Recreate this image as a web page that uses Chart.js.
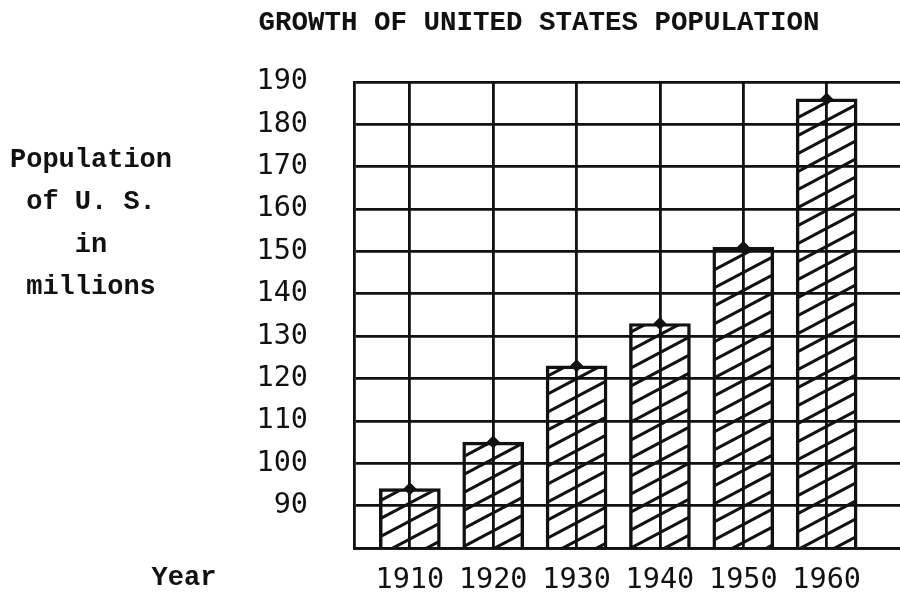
<!DOCTYPE html>
<html>
<head>
<meta charset="utf-8">
<title>Growth of United States Population</title>
<script src="https://cdn.jsdelivr.net/npm/chart.js@4"></script>
<style>
  html, body { margin: 0; padding: 0; background: #fff; }
  #wrap { width: 900px; height: 598px; }
</style>
</head>
<body>
<div id="wrap"><canvas id="popChart" width="900" height="598"></canvas></div>
<script>
// census years and population (millions) as drawn on the bars
const years = [1910, 1920, 1930, 1940, 1950, 1960];
const population = [94, 105, 123, 133, 151, 186];
const yTickValues = [80, 90, 100, 110, 120, 130, 140, 150, 160, 170, 180, 190];
const titleText = "GROWTH OF UNITED STATES POPULATION";
const yAxisLines = ["Population", "of U. S.", "in", "millions"];
const xAxisName = "Year";

const INK = "#111";

// diagonal hatch fill for the bars
function makeHatch() {
    const w = 34, h = 18;
    const tile = document.createElement("canvas");
    tile.width = w;
    tile.height = h;
    const c = tile.getContext("2d");
    c.strokeStyle = INK;
    c.lineWidth = 3;
    for (let k = -1; k <= 1; k++) {
        c.beginPath();
        c.moveTo(-w, 2 * h + k * h);
        c.lineTo(2 * w, -h + k * h);
        c.stroke();
    }
    return c.createPattern(tile, "repeat");
}

// title, side caption and "Year" are lettered by hand around the grid
const lettering = {
    id: "lettering",
    afterDraw(chart) {
        const ctx = chart.ctx;
        ctx.save();
        ctx.fillStyle = INK;
        ctx.textAlign = "center";
        ctx.textBaseline = "middle";
        ctx.font = "bold 27.5px 'Liberation Mono'";
        ctx.fillText(titleText, 539, 23);
        ctx.font = "bold 27px 'Liberation Mono'";
        const lineY = [160, 202, 245, 287];
        yAxisLines.forEach((t, i) => ctx.fillText(t, 91, lineY[i]));
        ctx.fillText(xAxisName, 184, 578);
        ctx.restore();
    }
};

const tickFont = { family: "'DejaVu Sans Mono'", size: 28.5 };

const ctx = document.getElementById("popChart").getContext("2d");
new Chart(ctx, {
    data: {
        datasets: [
            {
                type: "bar",
                data: years.map((y, i) => ({ x: y, y: population[i] })),
                backgroundColor: makeHatch(),
                borderColor: INK,
                borderWidth: 2.8,
                borderSkipped: false,
                barThickness: 61,
                order: 2
            },
            {
                type: "scatter",
                data: years.map((y, i) => ({ x: y, y: population[i] })),
                pointStyle: "rectRot",
                pointRadius: 6.5,
                pointBackgroundColor: INK,
                pointBorderWidth: 0,
                order: 1
            }
        ]
    },
    options: {
        responsive: false,
        devicePixelRatio: 1,
        animation: false,
        layout: { autoPadding: false, padding: { top: 82, right: 0, bottom: 0, left: 0 } },
        plugins: {
            legend: { display: false },
            tooltip: { enabled: false }
        },
        scales: {
            x: {
                type: "linear",
                min: 1903.3,
                max: 1968.8,
                offset: false,
                afterBuildTicks: scale => { scale.ticks = years.map(v => ({ value: v })); },
                afterFit: scale => {
                    scale.height = 50;
                    scale.paddingLeft = 0;
                    scale.paddingRight = 0;
                },
                grid: { color: INK, lineWidth: 2.8, drawTicks: false, offset: false },
                border: { color: INK, width: 2.8 },
                ticks: {
                    color: INK,
                    padding: 15,
                    maxRotation: 0,
                    font: tickFont,
                    callback: v => String(v)
                }
            },
            y: {
                min: 80,
                max: 190,
                afterBuildTicks: scale => { scale.ticks = yTickValues.map(v => ({ value: v })); },
                afterFit: scale => {
                    scale.width = 354;
                    scale.paddingTop = 0;
                    scale.paddingBottom = 0;
                },
                grid: { color: INK, lineWidth: 2.8, drawTicks: false },
                border: { color: INK, width: 2.8 },
                ticks: {
                    color: INK,
                    padding: 46,
                    font: tickFont,
                    callback: v => (v === 80 ? "" : String(v))
                }
            }
        }
    },
    plugins: [lettering]
});
</script>
</body>
</html>
